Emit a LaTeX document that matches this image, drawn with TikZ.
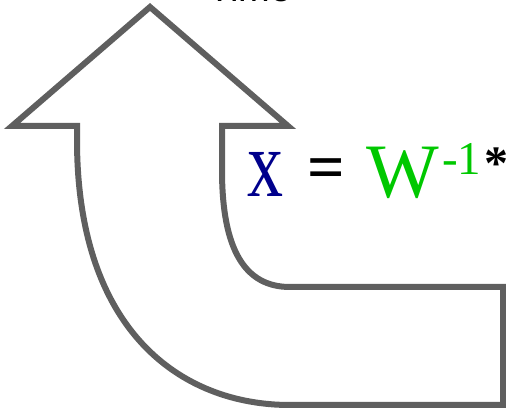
\documentclass[tikz,border=0pt]{standalone}
\usepackage{fontspec}
\setmainfont{Liberation Serif}
\newfontfamily\labelsans{Liberation Sans}
\definecolor{arrowgray}{RGB}{95, 95, 95}
\definecolor{varblue}{RGB}{0, 0, 140}
\definecolor{matgreen}{RGB}{0, 200, 0}
\usetikzlibrary{positioning, calc}

\begin{document}
\begin{tikzpicture}[x=1pt, y=-1pt,
  bigarrow/.style={draw=arrowgray, fill=white, line width=6pt, line join=miter},
  eqtext/.style={inner sep=0pt, anchor=base west}
]
  \useasboundingbox (0,0) rectangle (506,411);
  % curved arrow outline
  \draw[bigarrow] (150,7) -- (288,126) -- (222,126) -- (222,170)
    .. controls (222,250) and (245,287) .. (290,287) -- (503,287) -- (503,405) -- (290,405)
    .. controls (180,405) and (77,330) .. (77,140) -- (77,126) -- (12,126) -- cycle;
  \node[inner sep=0pt, anchor=base, font=\labelsans\fontsize{38}{38}\selectfont] (timelabel) at (250,1.5) {Time};
  % inverse transform
  \node[eqtext, text=varblue] (xvar) at (247,197) {\scalebox{1.2}[1.6]{\fontsize{60}{60}\selectfont x}};
  \node[inner sep=0pt, font=\fontsize{66}{66}\selectfont\bfseries] (eqsign) at (326,174) {=};
  \node[eqtext, text=matgreen, font=\fontsize{77}{77}\selectfont] (wmat) at (366,198) {W};
  \node[eqtext, text=matgreen, font=\fontsize{47}{47}\selectfont] (winv) at (442,175) {-1};
  \node[inner sep=0pt, font=\fontsize{48}{48}\selectfont\bfseries] (conv) at (496,164) {*};
\end{tikzpicture}
\end{document}
